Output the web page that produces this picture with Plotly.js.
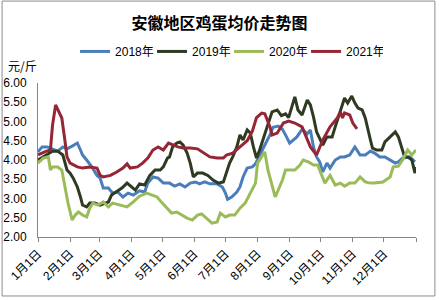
<!DOCTYPE html>
<html>
<head>
<meta charset="utf-8">
<script src="https://cdn.plot.ly/plotly-3.0.1.min.js"></script>
<style>html,body{margin:0;padding:0;background:#fff;}#chart{width:439px;height:300px;}</style>
</head>
<body>
<div id="chart"></div>
<script>
// Day of year (0 = 1月1日, 365 = year end)
const monthStartDays = [0, 31, 59, 90, 120, 151, 181, 212, 243, 273, 304, 334, 365];
const monthLabels = ['1月1日','2月1日','3月1日','4月1日','5月1日','6月1日','7月1日','8月1日','9月1日','10月1日','11月1日','12月1日',''];
const yTicks = [2.0, 2.5, 3.0, 3.5, 4.0, 4.5, 5.0, 5.5, 6.0];

const days2018 = [0,4,9,14,19,24,28,33,38,41,43,47,52,57,60,63,68,72,77,82,87,92,98,103,105,106,111,116,121,127,132,137,142,147,152,156,161,166,173,178,181,183,187,192,195,198,202,207,210,214,219,224,227,232,236,240,243,250,255,260,263,266,269,272,275,279,282,287,292,296,301,306,311,316,321,325,330,335,340,345,348,352,359,364];
const price2018 = [4.21,4.34,4.34,4.29,4.23,4.34,4.29,4.36,4.44,4.26,4.13,4.0,3.82,3.6,3.53,3.27,3.27,3.14,3.17,3.04,3.14,3.09,3.2,3.17,3.3,3.4,3.56,3.53,3.4,3.4,3.32,3.38,3.3,3.4,3.43,3.38,3.43,3.38,3.38,3.3,3.14,2.98,3.04,3.17,3.3,3.56,3.79,3.82,3.9,4.13,4.39,4.65,4.85,4.88,4.8,4.6,4.44,4.6,4.8,4.68,4.78,4.34,4.08,3.95,3.69,3.92,3.79,4.0,4.08,4.08,4.13,4.34,4.13,4.13,4.23,4.18,4.08,4.08,4.0,3.92,3.95,4.05,4.08,3.95];

const days2019 = [0,5,10,14,19,24,28,31,34,38,41,43,47,50,55,60,65,68,71,76,81,86,91,94,98,103,108,113,118,121,125,127,130,134,137,140,144,147,150,154,159,164,169,174,179,182,185,188,192,195,198,202,205,208,211,214,217,221,226,231,235,239,242,248,251,255,260,263,266,269,272,275,279,284,287,292,296,299,303,306,309,313,316,321,323,327,332,335,340,345,348,351,354,357,361,364,365];
const price2019 = [4.0,4.08,4.18,4.23,4.23,4.13,3.74,3.66,3.53,3.3,3.04,2.83,2.78,2.88,2.88,2.83,2.88,2.91,3.09,3.17,3.27,3.4,3.3,3.22,3.38,3.35,3.6,3.74,3.74,3.82,4.05,4.08,4.34,4.44,4.47,4.39,4.18,3.92,3.56,3.66,3.66,3.6,3.48,3.4,3.43,3.66,3.92,4.08,4.34,4.65,4.52,4.78,4.7,4.34,4.05,4.26,4.52,4.83,5.25,5.3,5.15,5.2,5.1,5.64,5.3,5.17,5.56,5.43,5.12,4.73,4.57,4.39,4.6,4.6,4.86,5.3,5.61,5.48,5.66,5.48,5.35,5.3,5.09,4.52,4.31,4.26,4.26,4.47,4.6,4.73,4.6,4.31,4.08,4.08,4.0,3.66,3.82];

const days2020 = [0,5,10,12,14,19,23,26,29,33,36,39,43,47,50,53,58,63,68,72,79,86,92,98,105,110,115,120,125,129,134,139,144,149,154,158,163,168,173,176,181,185,190,195,200,205,210,212,216,219,222,226,229,232,236,239,241,248,253,256,261,266,270,274,277,282,287,292,296,301,306,311,316,321,325,333,340,343,348,352,357,361,365];
const price2020 = [3.92,4.05,4.08,3.74,3.82,3.82,3.74,3.3,2.88,2.44,2.57,2.65,2.57,2.52,2.75,2.88,2.83,2.91,2.78,2.88,2.83,2.78,2.91,3.06,3.14,3.09,3.04,2.88,2.75,2.62,2.65,2.57,2.49,2.44,2.57,2.6,2.49,2.36,2.39,2.62,2.52,2.57,2.57,2.75,2.88,3.14,3.4,3.92,4.08,4.21,3.74,3.35,3.04,3.22,3.48,3.74,3.74,3.74,3.87,4.0,3.95,3.87,3.87,3.6,3.4,3.6,3.35,3.4,3.32,3.4,3.4,3.56,3.43,3.4,3.4,3.43,3.56,3.82,3.84,4.0,4.26,4.13,4.26];

const days2021 = [0,7,12,14,17,21,23,26,28,31,38,43,50,57,60,63,70,76,82,86,89,96,101,106,111,116,121,126,130,135,140,147,154,159,166,173,179,182,188,195,202,207,211,216,219,224,226,231,237,242,248,255,260,263,269,275,282,289,292,294,296,301,304,308,313,318,323];
const price2021 = [4.13,4.22,4.26,4.9,5.43,5.22,5.09,4.5,4.08,3.92,3.82,3.79,3.82,3.79,3.6,3.56,3.6,3.69,3.79,3.9,3.79,3.82,3.92,4.05,4.26,4.34,4.26,4.44,4.39,4.34,4.31,4.31,4.29,4.21,4.08,4.05,4.05,4.13,4.18,4.34,4.5,4.75,5.1,5.22,5.2,4.86,4.65,4.7,4.96,5.01,4.96,4.86,4.52,4.34,4.13,4.52,4.86,5.09,5.25,5.09,5.22,5.17,4.96,4.81];

const seriesNames = ['2018年','2019年','2020年','2021年'];
const seriesColors = ['#4A7EBB','#2E3A22','#9BBB59','#962634'];
const seriesX = [days2018, days2019, days2020, days2021];
const seriesY = [price2018, price2019, price2020, price2021];

const traces = seriesNames.map((name, i) => ({
  x: seriesX[i], y: seriesY[i], name: name, type: 'scatter', mode: 'lines',
  line: {color: seriesColors[i], width: 3}
}));

const font = 'Liberation Sans, Arial, Noto Sans CJK SC, sans-serif';
const layout = {
  width: 439, height: 300,
  margin: {l: 38, r: 23, t: 83, b: 63},
  paper_bgcolor: '#ffffff', plot_bgcolor: '#ffffff',
  font: {family: font, size: 12, color: '#000'},
  title: {text: '安徽地区鸡蛋均价走势图', font: {family: 'Noto Sans CJK SC, sans-serif', size: 16, color: '#000', weight: 'bold'}, x: 0.5, xanchor: 'center', y: 0.922, yanchor: 'middle'},
  showlegend: true,
  legend: {orientation: 'h', x: 0.098, xanchor: 'left', y: 1.205, yanchor: 'middle', font: {family: font, size: 12, color: '#000'}, bgcolor: 'rgba(0,0,0,0)', tracegroupgap: 0, itemwidth: 30, entrywidth: 32, entrywidthmode: 'pixels'},
  xaxis: {
    type: 'linear', range: [0, 365], tickmode: 'array', tickvals: monthStartDays, ticktext: monthLabels,
    tickangle: -45, ticks: 'outside', ticklen: 4, tickcolor: '#868686', showline: true, linecolor: '#868686', linewidth: 1,
    showgrid: false, zeroline: false, tickfont: {family: font, size: 12, color: '#000'}, fixedrange: true
  },
  yaxis: {
    range: [2, 6], tickmode: 'array', tickvals: yTicks, tickformat: '.2f', ticks: '', showline: true, linecolor: '#868686', linewidth: 1,
    ticklabelstandoff: 8,
    showgrid: false, zeroline: false, tickfont: {family: font, size: 12, color: '#000'}, fixedrange: true
  },
  annotations: [{text: '元/斤', xref: 'paper', yref: 'paper', x: -0.085, y: 1.115, xanchor: 'left', yanchor: 'middle', showarrow: false, font: {family: 'Noto Sans CJK SC, sans-serif', size: 12, color: '#000'}}],
  shapes: [{type: 'rect', xref: 'paper', yref: 'paper', x0: -0.095, x1: 1.05, y0: -0.383, y1: 1.532, line: {color: '#8c8c8c', width: 1}}]
};

Plotly.newPlot('chart', traces, layout, {displayModeBar: false, staticPlot: true});
</script>
</body>
</html>
